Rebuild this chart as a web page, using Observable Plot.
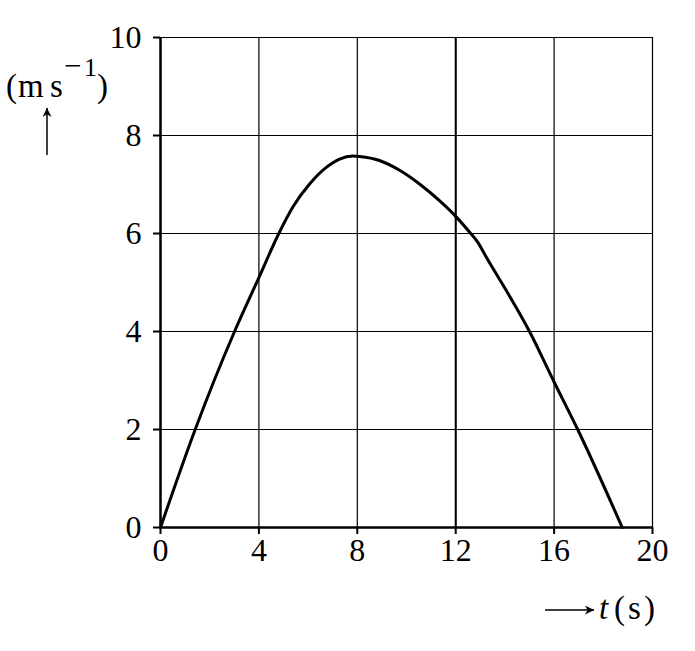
<!DOCTYPE html>
<html>
<head>
<meta charset="utf-8">
<script src="https://cdn.jsdelivr.net/npm/d3@7"></script>
<script src="https://cdn.jsdelivr.net/npm/@observablehq/plot@0.6"></script>
<style>
  html, body { margin: 0; padding: 0; background: #fff; }
  #chart { width: 695px; height: 651px; }
  #chart svg, #chart svg text { font-family: "Liberation Serif", "Times New Roman", Times, serif !important; }
</style>
</head>
<body>
<div id="chart"></div>
<script>
// Time (s)
const tValues = [0, 1.41, 3.01, 4, 4.81, 5.38, 6.06, 6.74, 7.28, 7.82, 8.09, 8.9, 9.72, 10.53, 11.34, 12, 12.56, 12.9, 13.24, 14.05, 15, 16, 16.96, 18.77];
// Speed (m s^-1)
const vValues = [0, 2, 4, 5.1, 6.0, 6.54, 7.01, 7.35, 7.52, 7.58, 7.57, 7.49, 7.29, 7.01, 6.67, 6.35, 6.03, 5.82, 5.52, 4.84, 4, 2.97, 2, 0];
const xTicks = [0, 4, 8, 12, 16, 20];
const yTicks = [0, 2, 4, 6, 8, 10];
const yUnitParts = ["(", "m", "s"];
const yUnitSup = ["\u2212", "1"];
const yUnitClose = ")";
const xLabelVar = "t";
const xLabelUnit = "(s)";

const data = tValues.map((t, i) => ({t, v: vValues[i]}));
const FONT = "Liberation Serif, Times New Roman, serif";

const chart = Plot.plot({
  width: 695,
  height: 651,
  marginLeft: 160,
  marginRight: 43,
  marginTop: 37,
  marginBottom: 124,
  style: {fontFamily: FONT, fontSize: "32px", background: "#fff", color: "#000"},
  x: {domain: [0, 20], ticks: xTicks},
  y: {domain: [0, 10], ticks: yTicks},
  marks: [
    Plot.ruleX(xTicks, {stroke: "#000", strokeWidth: 1.2}),
    Plot.ruleY(yTicks, {stroke: "#000", strokeWidth: 1.2}),
    Plot.ruleX([12], {stroke: "#000", strokeWidth: 2}),
    Plot.ruleX([0], {stroke: "#000", strokeWidth: 2.5}),
    Plot.ruleY([0], {stroke: "#000", strokeWidth: 2.5}),
    Plot.axisX({ticks: xTicks, tickSize: 7, tickPadding: 4, strokeWidth: 2, label: null, fontSize: 32}),
    Plot.axisY({ticks: yTicks, tickSize: 7, tickPadding: 12, strokeWidth: 2, label: null, fontSize: 32}),
    Plot.line(data, {x: "t", y: "v", stroke: "#000", strokeWidth: 3, curve: "monotone-x"})
  ]
});

document.getElementById("chart").appendChild(chart);

// Annotations: unit label and arrows
const svg = d3.select(chart);
const defs = svg.append("defs");
defs.append("marker")
  .attr("id", "ah").attr("viewBox", "0 0 10 10").attr("refX", 10).attr("refY", 5)
  .attr("markerWidth", 14).attr("markerHeight", 9).attr("markerUnits", "userSpaceOnUse")
  .attr("orient", "auto")
  .append("path").attr("d", "M0,0 L10,5 L0,10 L3,5 Z").attr("fill", "#000");

const g = svg.append("g").attr("font-family", FONT).attr("text-anchor", "start").attr("fill", "#000");
const ty = g.append("text").attr("y", 97).attr("font-size", 33).attr("text-anchor", "start");
ty.append("tspan").attr("x", 6).text(yUnitParts[0]);
ty.append("tspan").attr("x", 18).text(yUnitParts[1]);
ty.append("tspan").attr("x", 50).text(yUnitParts[2]);
ty.append("tspan").attr("x", 64).attr("y", 76).attr("font-size", 31).text(yUnitSup[0]);
ty.append("tspan").attr("x", 84).attr("y", 76).attr("font-size", 26).text(yUnitSup[1]);
ty.append("tspan").attr("x", 97).attr("y", 97).text(yUnitClose);

g.append("line").attr("x1", 47).attr("y1", 155).attr("x2", 47).attr("y2", 108)
  .attr("stroke", "#000").attr("stroke-width", 1.5).attr("marker-end", "url(#ah)");

g.append("line").attr("x1", 545).attr("y1", 610).attr("x2", 594).attr("y2", 610)
  .attr("stroke", "#000").attr("stroke-width", 1.5).attr("marker-end", "url(#ah)");

const tx = g.append("text").attr("y", 619).attr("font-size", 33).attr("text-anchor", "start");
tx.append("tspan").attr("x", 599).attr("font-style", "italic").text(xLabelVar);
tx.append("tspan").attr("x", 614).attr("textLength", 41).attr("lengthAdjust", "spacing").text(xLabelUnit);
</script>
</body>
</html>
